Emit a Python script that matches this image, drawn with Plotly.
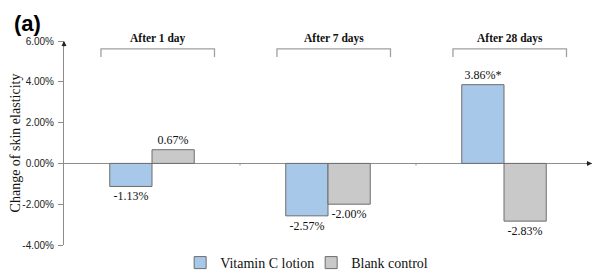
import plotly.graph_objects as go

periods = ["After 1 day", "After 7 days", "After 28 days"]
vitamin_c = [-1.13, -2.57, 3.86]
blank = [0.67, -2.00, -2.83]
vitamin_sig = ["", "", "*"]
blank_sig = ["", "", ""]
y_ticks = [-4, -2, 0, 2, 4, 6]

x_idx = list(range(len(periods)))
serif = "Liberation Serif, Times New Roman, serif"
sans = "Liberation Sans, Arial, sans-serif"
axis_col = "#8c8c8c"

# page body adds an 8px offset; size the figure so it fills the 604x280 window
OFF = 8
W, H = 604 - OFF, 280 - OFF
L, T = 64 - OFF, 41 - OFF
R = W - (592 - OFF)
B = H - (245 - OFF)
PW, PH = W - L - R, H - T - B


def px_x(px):
    return (px - OFF - L) / PW


def px_y(py):
    return (T + PH - (py - OFF)) / PH


fig = go.Figure()
fig.add_trace(go.Bar(
    x=x_idx, y=vitamin_c, name="Vitamin C lotion",
    marker=dict(color="#a7c8e8", line=dict(color="#6d6d6d", width=1)),
    text=[f"{v:.2f}%{s}" for v, s in zip(vitamin_c, vitamin_sig)],
    textposition="outside", textfont=dict(family=serif, size=12, color="#111"),
    cliponaxis=False,
))
fig.add_trace(go.Bar(
    x=x_idx, y=blank, name="Blank control",
    marker=dict(color="#c9c9c9", line=dict(color="#6d6d6d", width=1)),
    text=[f"{v:.2f}%{s}" for v, s in zip(blank, blank_sig)],
    textposition="outside", textfont=dict(family=serif, size=12, color="#111"),
    cliponaxis=False,
))

shapes = []
annotations = []
for i, p in enumerate(periods):
    x0, x1 = i - 0.29, i + 0.355
    shapes.append(dict(type="path", xref="x", yref="y",
                       path=f"M {x0} 5.22 L {x0} 5.61 L {x1} 5.61 L {x1} 5.22",
                       line=dict(color="#a0a0a0", width=1.3)))
    annotations.append(dict(x=(x0 + x1) / 2, y=px_y(38), xref="x", yref="paper", text=f"<b>{p}</b>",
                            showarrow=False, font=dict(family=serif, size=11.5, color="#111"),
                            yanchor="middle"))
# category boundary ticks on the zero line
for b in [0.5, 1.5]:
    shapes.append(dict(type="line", xref="x", yref="y", x0=b, x1=b, y0=0, y1=-0.1,
                       line=dict(color=axis_col, width=1)))

# axis arrows
annotations.append(dict(x=-0.5, y=6.0, ax=0, ay=7, xref="x", yref="y",
                        showarrow=True, arrowhead=2, arrowsize=1, arrowwidth=1, arrowcolor="#222",
                        text=""))
annotations.append(dict(x=2.5, y=0, ax=-7, ay=0, xref="x", yref="y",
                        showarrow=True, arrowhead=2, arrowsize=1, arrowwidth=1, arrowcolor="#222",
                        text=""))
annotations.append(dict(x=px_x(27), y=px_y(23), xref="paper", yref="paper", text="<b>(a)</b>",
                        xanchor="center", yanchor="middle",
                        showarrow=False, font=dict(family=sans, size=22, color="#000")))

fig.update_layout(
    width=W, height=H,
    margin=dict(l=L, r=R, t=T, b=B, autoexpand=False),
    paper_bgcolor="white", plot_bgcolor="white",
    barmode="group", bargap=0.52, bargroupgap=0,
    shapes=shapes, annotations=annotations,
    legend=dict(orientation="h", x=0.22, y=px_y(263), xanchor="left", yanchor="middle",
                font=dict(family=serif, size=14, color="#111"), entrywidth=86,
                bgcolor="rgba(0,0,0,0)"),
    xaxis=dict(range=[-0.5, 2.5], showticklabels=False, showline=False, showgrid=False,
               zeroline=False, ticks="", automargin=False),
    yaxis=dict(range=[-4, 6], tickvals=y_ticks, ticktext=[f"{v:.2f}%" for v in y_ticks],
               tickfont=dict(family=sans, size=10, color="#222"), automargin=False,
               showline=True, linecolor=axis_col, linewidth=1,
               ticks="outside", ticklen=5, tickcolor=axis_col, ticklabelstandoff=2,
               showgrid=False, zeroline=True, zerolinecolor=axis_col, zerolinewidth=1,
               title=dict(text="Change of skin elasticity", font=dict(family=serif, size=14, color="#111"),
                          standoff=6)),
)

fig.write_html("out.html")
